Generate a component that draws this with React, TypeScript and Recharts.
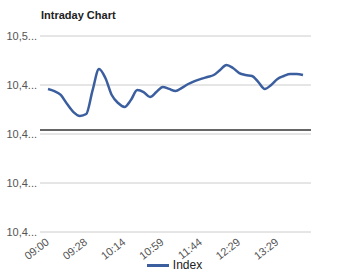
import { LineChart, Line, XAxis, YAxis, CartesianGrid, Legend, ReferenceLine } from "recharts";

const times = [
  "09:00", "09:05", "09:09", "09:14", "09:19", "09:23", "09:28",
  "09:36", "09:43", "09:51", "09:59", "10:06", "10:14",
  "10:21", "10:29", "10:36", "10:44", "10:51", "10:59",
  "11:06", "11:14", "11:21", "11:29", "11:36", "11:44",
  "11:51", "11:59", "12:06", "12:14", "12:21", "12:29",
  "12:39", "12:49", "12:59", "13:09", "13:19", "13:29",
  "13:34", "13:39", "13:44", "13:49",
];

const indexValues = [
  10473.0, 10471.9, 10469.9, 10465.3, 10461.2, 10459.2, 10460.2,
  10472.4, 10483.2, 10478.6, 10469.9, 10465.8, 10463.8,
  10467.3, 10472.4, 10471.4, 10468.9, 10471.4, 10474.0,
  10473.0, 10471.9, 10473.5, 10475.5, 10477.0, 10478.1,
  10479.1, 10480.1, 10482.7, 10485.2, 10483.7, 10481.1,
  10480.1, 10479.6, 10476.5, 10473.0, 10475.0, 10478.1,
  10479.6, 10480.6, 10480.6, 10480.1,
];

const yTicks = [10400, 10425, 10450, 10475, 10500];
const previousClose = 10452;

const data = times.map((t, i) => ({ time: t, Index: indexValues[i] }));

const font = "Arial, 'Liberation Sans', sans-serif";
const lineColor = "#3b5e9f";

const fmtY = (v: number) => v.toLocaleString("en-US").slice(0, 4) + "...";

// rotated time labels, text ends at the tick
const TimeTick = (props: any) => {
  const { x, payload } = props;
  return (
    <g transform={`translate(${x},${241}) rotate(-38)`}>
      <text textAnchor="end" dy={3} fontSize={11} fill="#555" fontFamily={font}>
        {payload.value}
      </text>
    </g>
  );
};

const LegendBox = () => (
  <div style={{ display: "flex", alignItems: "center", justifyContent: "center", fontSize: 12, color: "#222", fontFamily: font }}>
    <span style={{ display: "inline-block", width: 22, height: 3, background: lineColor, marginRight: 4 }} />
    <span>Index</span>
  </div>
);

const App = () => {
  return (
    <div style={{ position: "absolute", left: 0, top: 0, width: 349, height: 271, fontFamily: font }}>
      <div style={{ position: "absolute", left: 41, top: 9, fontSize: 11, fontWeight: "bold", color: "#222" }}>
        Intraday Chart
      </div>
      <LineChart width={349} height={271} data={data} margin={{ top: 36, right: 38, bottom: 0, left: 0 }}>
        <CartesianGrid vertical={false} stroke="#cccccc" />
        <XAxis
          dataKey="time"
          interval={5}
          padding={{ left: 8, right: 8 }}
          axisLine={false}
          tickLine={false}
          height={24}
          tick={<TimeTick />}
        />
        <YAxis
          domain={[10400, 10500]}
          ticks={yTicks}
          width={40}
          axisLine={false}
          tickLine={false}
          tickSize={0}
          tickMargin={3}
          tickFormatter={fmtY}
          tick={{ fontSize: 11, fill: "#555", fontFamily: font }}
        />
        <ReferenceLine y={previousClose} stroke="#333" strokeWidth={1.5} />
        <Legend
          verticalAlign="bottom"
          height={15}
          content={<LegendBox />}
          wrapperStyle={{ top: 258, left: 0, width: 349 }}
        />
        <Line
          type="monotone"
          dataKey="Index"
          stroke={lineColor}
          strokeWidth={2.5}
          dot={false}
          isAnimationActive={false}
        />
      </LineChart>
    </div>
  );
};

export default App;
